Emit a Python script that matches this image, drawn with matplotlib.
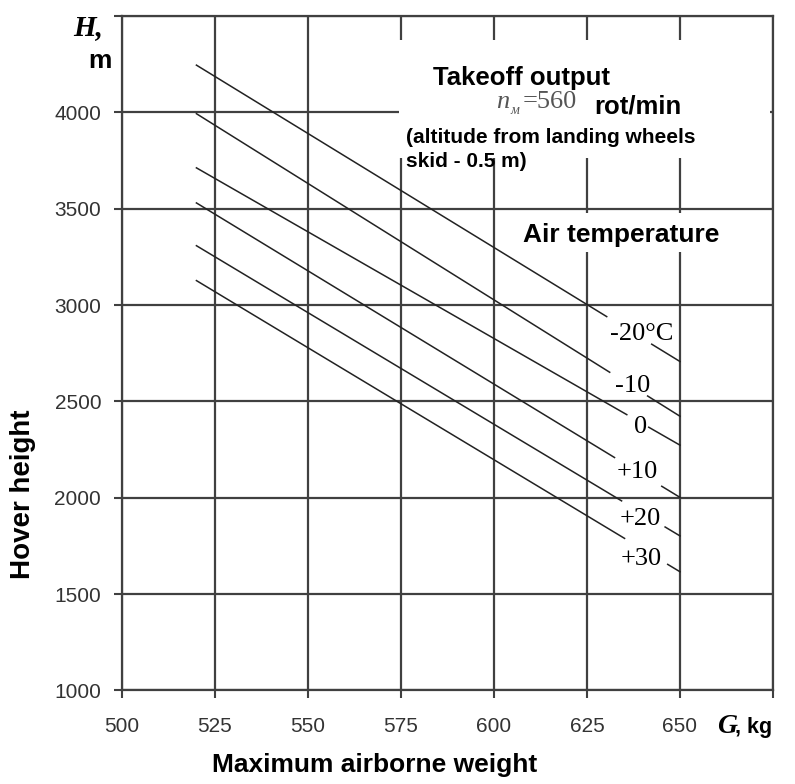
import numpy as np
import matplotlib.pyplot as plt
from matplotlib.patches import Rectangle

# Hover height vs weight, takeoff output, one line per air temperature
temps = ["-20°C", "-10", "0", "+10", "+20", "+30"]
weight_start = 520
weight_end = 650
height_start = [4245, 3993, 3712, 3530, 3308, 3127]
height_end = [2707, 2423, 2273, 2002, 1802, 1616]

# where each line is broken for its label (kg)
gap_from = [630.3, 631.1, 635.7, 632.4, 634.3, 635.1]
gap_to = [642.4, 641.3, 641.6, 645.1, 646.0, 646.7]
label_x = [639.7, 637.4, 639.3, 638.6, 639.4, 639.7]
label_y = [2817, 2548, 2335, 2102, 1858, 1650]

x_ticks = [500, 525, 550, 575, 600, 625, 650, 675]
y_ticks = [1000, 1500, 2000, 2500, 3000, 3500, 4000, 4500]

grid_col = "#404040"
sans = ["Liberation Sans", "DejaVu Sans"]
serif = ["Liberation Serif", "DejaVu Serif"]

fig = plt.figure(figsize=(7.95, 7.84), dpi=100)
ax = fig.add_axes([0.1535, 0.1193, 0.9723 - 0.1535, 0.9796 - 0.1193])

ax.set_xlim(500, 675)
ax.set_ylim(1000, 4500)
ax.set_xticks(x_ticks)
ax.set_yticks(y_ticks)
ax.set_xticklabels([str(v) for v in x_ticks[:-1]] + [""])
ax.set_yticklabels([str(v) for v in y_ticks[:-1]] + [""])
ax.tick_params(length=6, width=1.5, color=grid_col, labelsize=15,
               labelcolor="#333333")
ax.tick_params(axis="x", pad=13)
ax.tick_params(axis="y", pad=9)
for lab in ax.get_xticklabels() + ax.get_yticklabels():
    lab.set_family(sans)

ax.set_axisbelow(True)
ax.grid(True, color=grid_col, linewidth=1.6)
for sp in ax.spines.values():
    sp.set_color(grid_col)
    sp.set_linewidth(1.6)

# white boxes behind the text blocks (they hide the grid)
ax.add_patch(Rectangle((574.5, 3761), 674.2 - 574.5, 4373 - 3761,
                       facecolor="white", edgecolor="none", zorder=1))
ax.add_patch(Rectangle((601.9, 3274), 673.4 - 601.9, 3476 - 3274,
                       facecolor="white", edgecolor="none", zorder=1))

for i, t in enumerate(temps):
    xs = [weight_start, weight_end]
    ys = [height_start[i], height_end[i]]
    y_a = np.interp(gap_from[i], xs, ys)
    y_b = np.interp(gap_to[i], xs, ys)
    ax.plot([weight_start, gap_from[i]], [height_start[i], y_a],
            color="#222222", lw=1.1, zorder=2)
    ax.plot([gap_to[i], weight_end], [y_b, height_end[i]],
            color="#222222", lw=1.1, zorder=2)
    ax.text(label_x[i], label_y[i], t, family=serif, fontsize=19,
            ha="center", va="baseline", zorder=3)

# text inside the chart
ax.text(583.6, 4140, "Takeoff output", family=sans, fontsize=18.5,
        fontweight="bold", va="baseline", zorder=3)
ax.text(600.6, 4021, "n", family=serif, fontsize=19, style="italic",
        color="#555555", va="baseline", zorder=3)
ax.text(604.5, 3992, "м", family=serif, fontsize=10, style="italic",
        color="#555555", va="baseline", zorder=3)
ax.text(607.6, 4021, "=560", family=serif, fontsize=19,
        color="#555555", va="baseline", zorder=3)
ax.text(627.0, 3995, "rot/min", family=sans, fontsize=18.5,
        fontweight="bold", va="baseline", zorder=3)
ax.text(576.3, 3839, "(altitude from landing wheels", family=sans,
        fontsize=15, fontweight="bold", va="baseline", zorder=3)
ax.text(576.3, 3715, "skid - 0.5 m)", family=sans,
        fontsize=15, fontweight="bold", va="baseline", zorder=3)
ax.text(607.9, 3326, "Air temperature", family=sans, fontsize=19,
        fontweight="bold", va="baseline", zorder=3)

# axis titles
fig.text(103 / 795, 1 - 35 / 784, "H,", family=serif, fontsize=21,
         fontweight="bold", style="italic", ha="right", va="baseline")
fig.text(112 / 795, 1 - 68 / 784, "m", family=sans, fontsize=19,
         fontweight="bold", ha="right", va="baseline")
fig.text(23 / 795, 1 - 494 / 784, "Hover height", family=sans, fontsize=20,
         fontweight="bold", rotation=90, ha="center", va="center")
fig.text(375 / 795, 1 - 765 / 784, "Maximum airborne weight", family=sans,
         fontsize=19, fontweight="bold", ha="center", va="center")
fig.text(717 / 795, 1 - 733 / 784, "G", family=serif, fontsize=20,
         style="italic", fontweight="bold", ha="left", va="baseline")
fig.text(735 / 795, 1 - 733 / 784, ", kg", family=sans, fontsize=15.5,
         fontweight="bold", ha="left", va="baseline")

fig.savefig("out.png", dpi=100)
